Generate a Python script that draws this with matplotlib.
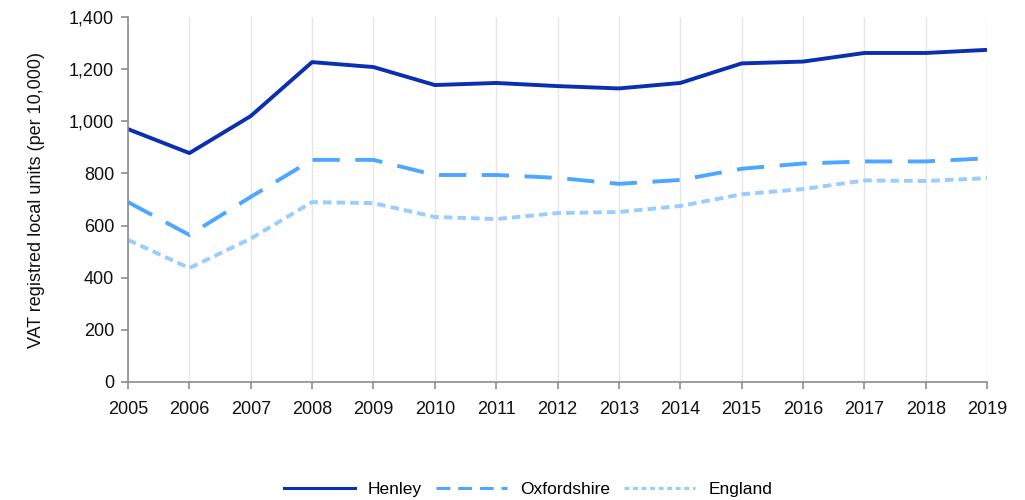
import matplotlib
matplotlib.use("Agg")
import matplotlib.pyplot as plt
from matplotlib.lines import Line2D

years = list(range(2005, 2020))
henley = [970, 878, 1020, 1227, 1208, 1139, 1147, 1135, 1126, 1147, 1222, 1229, 1262, 1262, 1274]
oxfordshire = [690, 564, 710, 852, 852, 794, 794, 783, 760, 775, 818, 838, 846, 846, 858]
england = [545, 437, 550, 690, 686, 633, 625, 648, 652, 675, 720, 740, 773, 771, 782]
y_ticks = [0, 200, 400, 600, 800, 1000, 1200, 1400]
y_label = "VAT registred local units (per 10,000)"

plt.rcParams['font.family'] = ['Liberation Sans', 'DejaVu Sans']

c_henley, c_oxon, c_eng = "#0a2fb0", "#4da6ff", "#99ccff"

fig = plt.figure(figsize=(10.25, 5.0), dpi=100)
ax = fig.add_axes([0.1249, 0.236, 0.963 - 0.1249, 0.966 - 0.236])

ax.plot(years, henley, color=c_henley, lw=2.8)
ax.plot(years, oxfordshire, color=c_oxon, lw=2.8, dashes=(7, 4))
ax.plot(years, england, color=c_eng, lw=2.8, dashes=(2.2, 1.3))

ax.set_xlim(years[0], years[-1])
ax.set_ylim(0, 1400)
ax.set_xticks(years)
ax.set_yticks(y_ticks)
ax.set_yticklabels([f"{v:,}" for v in y_ticks])
ax.grid(axis="x", color="#e6e6e6", lw=1)
ax.set_axisbelow(True)

for s in ["top", "right"]:
    ax.spines[s].set_visible(False)
for s in ["left", "bottom"]:
    ax.spines[s].set_color("#8c8c8c")
    ax.spines[s].set_linewidth(1.2)
ax.tick_params(axis="both", colors="#8c8c8c", length=5, width=1.2, labelcolor="#111111",
               labelsize=13)
ax.tick_params(axis="x", pad=9)
ax.tick_params(axis="y", pad=5)
ax.set_ylabel(y_label, fontsize=13, color="#111111", labelpad=17)

handles = [
    Line2D([], [], color=c_henley, lw=2.2),
    Line2D([], [], color=c_oxon, lw=2.2, dashes=(4.5, 2.6)),
    Line2D([], [], color=c_eng, lw=2.2, dashes=(1.6, 1.2)),
]
fig.legend(handles, ["Henley", "Oxfordshire", "England"], loc="center",
           bbox_to_anchor=(0.515, 0.022), ncol=3, frameon=False,
           fontsize=12.5, handlelength=4.1, columnspacing=0.8, handletextpad=0.75)

fig.savefig("out.png", dpi=100)
